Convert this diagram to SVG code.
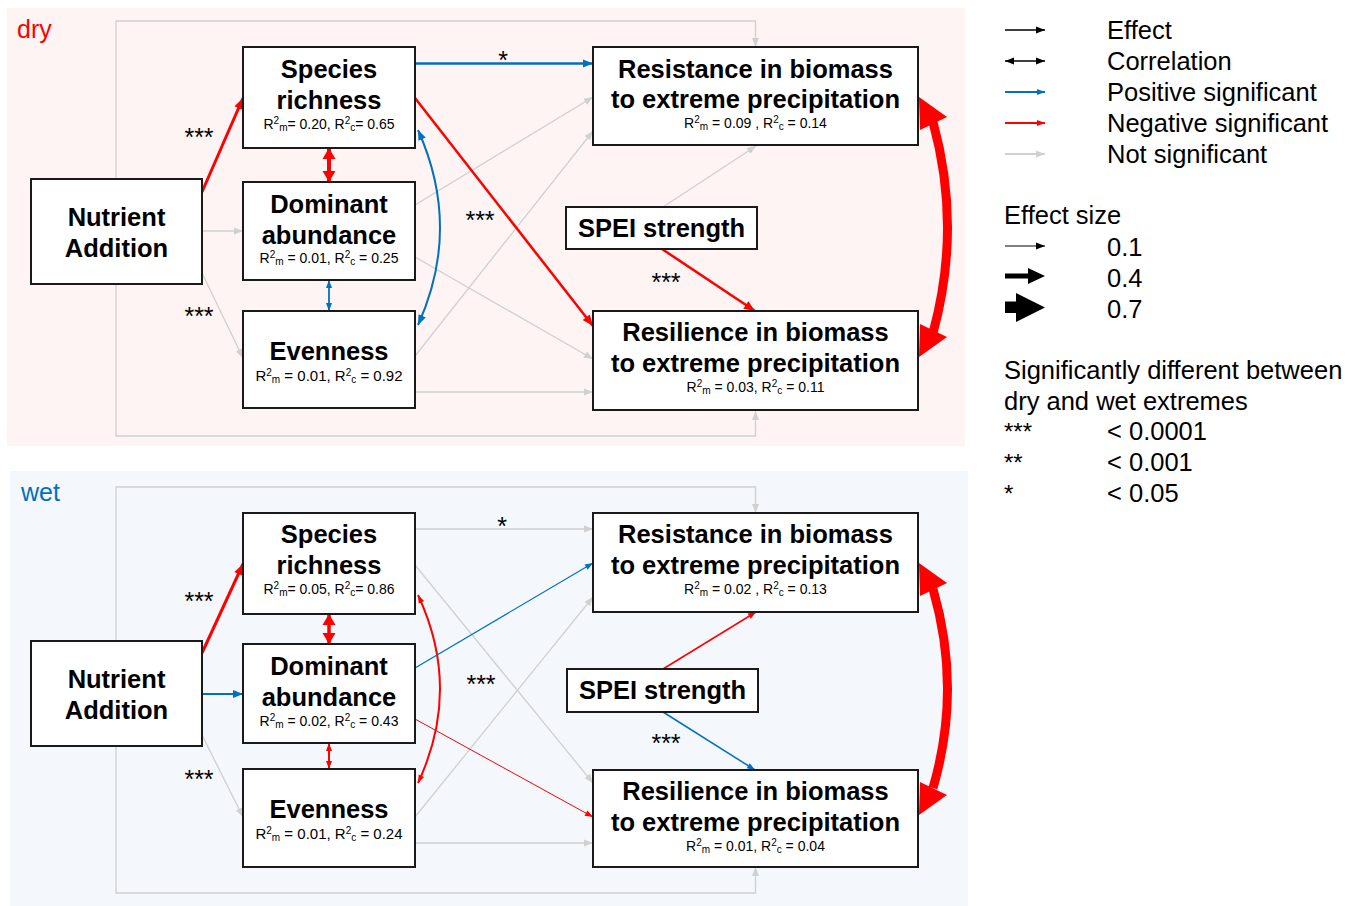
<svg xmlns="http://www.w3.org/2000/svg" width="1348" height="906" viewBox="0 0 1348 906">
<style>
text{font-family:"Liberation Sans",Arial,sans-serif;fill:#000}
.t{font-size:25.5px;font-weight:bold;text-anchor:middle}
.r{font-size:14px;text-anchor:middle}
.s{font-size:10px}
.st{font-size:25px;text-anchor:middle}
.lg{font-size:25.5px}
.box{fill:#fff;stroke:#1a1a1a;stroke-width:2}
.g{fill:none;stroke:#d0d0d0;stroke-width:1.3}
.b{fill:none;stroke:#0070c0}
.rd{fill:none;stroke:#ff0000}
</style>
<defs>
<marker id="ag" markerUnits="userSpaceOnUse" markerWidth="10" markerHeight="8" refX="9" refY="3.5" orient="auto-start-reverse" overflow="visible"><path d="M0,0 L9,3.5 L0,7z" fill="#d0d0d0"/></marker>
<marker id="ab1" markerUnits="userSpaceOnUse" markerWidth="9" markerHeight="7" refX="8" refY="3" orient="auto-start-reverse" overflow="visible"><path d="M0,0 L8,3 L0,6z" fill="#0070c0"/></marker>
<marker id="ab2" markerUnits="userSpaceOnUse" markerWidth="11" markerHeight="9" refX="10" refY="4" orient="auto-start-reverse" overflow="visible"><path d="M0,0 L10,4 L0,8z" fill="#0070c0"/></marker>
<marker id="ar1" markerUnits="userSpaceOnUse" markerWidth="9" markerHeight="7" refX="8" refY="3" orient="auto-start-reverse" overflow="visible"><path d="M0,0 L8,3 L0,6z" fill="#ff0000"/></marker>
<marker id="ar2" markerUnits="userSpaceOnUse" markerWidth="12" markerHeight="10" refX="11" refY="4.5" orient="auto-start-reverse" overflow="visible"><path d="M0,0 L11,4.5 L0,9z" fill="#ff0000"/></marker>
<marker id="ar3" markerUnits="userSpaceOnUse" markerWidth="12" markerHeight="14" refX="11" refY="6.5" orient="auto-start-reverse" overflow="visible"><path d="M0,0 L11,6.5 L0,13z" fill="#ff0000"/></marker>
<marker id="ak" markerUnits="userSpaceOnUse" markerWidth="10" markerHeight="8" refX="9" refY="3.5" orient="auto-start-reverse" overflow="visible"><path d="M0,0 L9,3.5 L0,7z" fill="#000"/></marker>
<marker id="akg" markerUnits="userSpaceOnUse" markerWidth="10" markerHeight="8" refX="9" refY="3.5" orient="auto-start-reverse" overflow="visible"><path d="M0,0 L9,3.5 L0,7z" fill="#d0d0d0"/></marker>
</defs>

<rect x="7" y="8" width="958" height="438" fill="#fef4f4"/>
<rect x="10" y="471" width="958" height="435" fill="#f4f7fc"/>
<text x="17" y="38" style="font-size:25px;fill:#ff0000">dry</text>
<text x="21" y="501" style="font-size:25px;fill:#0070c0">wet</text>

<g id="connectors">
<!-- dry -->
<path class="g" d="M116,179 V21 H755.5 V47" marker-end="url(#ag)"/>
<path class="g" d="M116,284 V436 H755.5 V411" marker-end="url(#ag)"/>
<path class="g" d="M202,231 H243" marker-end="url(#ag)"/>
<path class="g" d="M202,273 L243,358" marker-end="url(#ag)"/>
<path class="g" d="M415,205 L593,97" marker-end="url(#ag)"/>
<path class="g" d="M415,257 L593,359" marker-end="url(#ag)"/>
<path class="g" d="M415,356 L593,131" marker-end="url(#ag)"/>
<path class="g" d="M415,392 H593" marker-end="url(#ag)"/>
<path class="g" d="M663,207 L756,146" marker-end="url(#ag)"/>
<path class="rd" stroke-width="3" d="M202,192 L243,98" marker-end="url(#ar2)"/>
<path class="rd" stroke-width="4" d="M329,148 V182" marker-start="url(#ar3)" marker-end="url(#ar3)"/>
<path class="b" stroke-width="1.8" d="M329,280 V311" marker-start="url(#ab1)" marker-end="url(#ab1)"/>
<path class="b" stroke-width="2" d="M418,130 Q462,228 418,325" marker-start="url(#ab2)" marker-end="url(#ab2)"/>
<path class="b" stroke-width="2.5" d="M415,63.5 H593" marker-end="url(#ab2)"/>
<path class="rd" stroke-width="2.5" d="M415,98 L593,326" marker-end="url(#ar2)"/>
<path class="rd" stroke-width="2.5" d="M662,249 L755,311" marker-end="url(#ar2)"/>
<path class="rd" stroke-width="9" d="M933,122 Q962,227 933,333"/>
<polygon points="919,97 947,117 920,130" fill="#ff0000"/>
<polygon points="919,357 947,337 920,324" fill="#ff0000"/>
<!-- wet -->
<path class="g" d="M116,641 V487 H755.5 V513" marker-end="url(#ag)"/>
<path class="g" d="M116,746 V893 H755.5 V867" marker-end="url(#ag)"/>
<path class="g" d="M202,735 L243,817" marker-end="url(#ag)"/>
<path class="g" d="M415,529 H593" marker-end="url(#ag)"/>
<path class="g" d="M415,565 L593,783" marker-end="url(#ag)"/>
<path class="g" d="M415,817 L593,597" marker-end="url(#ag)"/>
<path class="g" d="M415,843 H593" marker-end="url(#ag)"/>
<path class="b" stroke-width="2" d="M202,694 H243" marker-end="url(#ab2)"/>
<path class="rd" stroke-width="3" d="M202,653 L243,564" marker-end="url(#ar2)"/>
<path class="rd" stroke-width="3.5" d="M329,614 V644" marker-start="url(#ar3)" marker-end="url(#ar3)"/>
<path class="rd" stroke-width="2" d="M329,743 V769" marker-start="url(#ar1)" marker-end="url(#ar1)"/>
<path class="rd" stroke-width="2" d="M418,595 Q462,689 418,783" marker-start="url(#ar1)" marker-end="url(#ar1)"/>
<path class="b" stroke-width="1.2" d="M415,668 L593,563" marker-end="url(#ab1)"/>
<path class="rd" stroke-width="1" d="M415,719 L593,817" marker-end="url(#ar1)"/>
<path class="rd" stroke-width="1.5" d="M663,669 L756,612" marker-end="url(#ar1)"/>
<path class="b" stroke-width="1.5" d="M663,712 L755,770" marker-end="url(#ab1)"/>
<path class="rd" stroke-width="9" d="M933,589 Q962,689 933,788"/>
<polygon points="919,563 947,583 920,596" fill="#ff0000"/>
<polygon points="919,815 947,795 920,782" fill="#ff0000"/>
<!-- significance labels -->
<text class="st" x="199" y="146">***</text>
<text class="st" x="199" y="325">***</text>
<text class="st" x="480" y="229">***</text>
<text class="st" x="666" y="291">***</text>
<text class="st" x="503" y="69">*</text>
<text class="st" x="199" y="610">***</text>
<text class="st" x="199" y="788">***</text>
<text class="st" x="481" y="693">***</text>
<text class="st" x="666" y="752">***</text>
<text class="st" x="502" y="535">*</text>
</g>

<!-- dry nodes -->
<g id="dry-nutrient">
<rect class="box" x="31" y="179" width="171" height="105"/>
<text class="t" x="116.5" y="226">Nutrient</text>
<text class="t" x="116.5" y="257">Addition</text>
</g>
<g id="dry-species">
<rect class="box" x="243" y="47" width="172" height="101"/>
<text class="t" x="329" y="78">Species</text>
<text class="t" x="329" y="109">richness</text>
<text class="r" x="329" y="129">R<tspan class="s" dy="-5">2</tspan><tspan class="s" dy="7">m</tspan><tspan dy="-2">= 0.20, R</tspan><tspan class="s" dy="-5">2</tspan><tspan class="s" dy="7">c</tspan><tspan dy="-2">= 0.65</tspan></text>
</g>
<g id="dry-dominant">
<rect class="box" x="243" y="182" width="172" height="98"/>
<text class="t" x="329" y="213">Dominant</text>
<text class="t" x="329" y="244">abundance</text>
<text class="r" x="329" y="263">R<tspan class="s" dy="-5">2</tspan><tspan class="s" dy="7">m</tspan><tspan dy="-2"> = 0.01, R</tspan><tspan class="s" dy="-5">2</tspan><tspan class="s" dy="7">c</tspan><tspan dy="-2"> = 0.25</tspan></text>
</g>
<g id="dry-evenness">
<rect class="box" x="243" y="311" width="172" height="97"/>
<text class="t" x="329" y="360">Evenness</text>
<text class="r" x="329" y="381" style="font-size:15px">R<tspan class="s" dy="-5">2</tspan><tspan class="s" dy="7">m</tspan><tspan dy="-2"> = 0.01, R</tspan><tspan class="s" dy="-5">2</tspan><tspan class="s" dy="7">c</tspan><tspan dy="-2"> = 0.92</tspan></text>
</g>
<g id="dry-resistance">
<rect class="box" x="593" y="47" width="325" height="98"/>
<text class="t" x="755.5" y="78">Resistance in biomass</text>
<text class="t" x="755.5" y="108">to extreme precipitation</text>
<text class="r" x="755.5" y="128">R<tspan class="s" dy="-5">2</tspan><tspan class="s" dy="7">m</tspan><tspan dy="-2"> = 0.09 , R</tspan><tspan class="s" dy="-5">2</tspan><tspan class="s" dy="7">c</tspan><tspan dy="-2"> = 0.14</tspan></text>
</g>
<g id="dry-resilience">
<rect class="box" x="593" y="311" width="325" height="99"/>
<text class="t" x="755.5" y="341">Resilience in biomass</text>
<text class="t" x="755.5" y="372">to extreme precipitation</text>
<text class="r" x="755.5" y="392">R<tspan class="s" dy="-5">2</tspan><tspan class="s" dy="7">m</tspan><tspan dy="-2"> = 0.03, R</tspan><tspan class="s" dy="-5">2</tspan><tspan class="s" dy="7">c</tspan><tspan dy="-2"> = 0.11</tspan></text>
</g>
<g id="dry-spei">
<rect class="box" x="566" y="207" width="191" height="42"/>
<text class="t" x="661.5" y="237">SPEI strength</text>
</g>

<!-- wet nodes -->
<g id="wet-nutrient">
<rect class="box" x="31" y="641" width="171" height="105"/>
<text class="t" x="116.5" y="688">Nutrient</text>
<text class="t" x="116.5" y="719">Addition</text>
</g>
<g id="wet-species">
<rect class="box" x="243" y="513" width="172" height="101"/>
<text class="t" x="329" y="543">Species</text>
<text class="t" x="329" y="574">richness</text>
<text class="r" x="329" y="594">R<tspan class="s" dy="-5">2</tspan><tspan class="s" dy="7">m</tspan><tspan dy="-2">= 0.05, R</tspan><tspan class="s" dy="-5">2</tspan><tspan class="s" dy="7">c</tspan><tspan dy="-2">= 0.86</tspan></text>
</g>
<g id="wet-dominant">
<rect class="box" x="243" y="644" width="172" height="99"/>
<text class="t" x="329" y="675">Dominant</text>
<text class="t" x="329" y="706">abundance</text>
<text class="r" x="329" y="726">R<tspan class="s" dy="-5">2</tspan><tspan class="s" dy="7">m</tspan><tspan dy="-2"> = 0.02, R</tspan><tspan class="s" dy="-5">2</tspan><tspan class="s" dy="7">c</tspan><tspan dy="-2"> = 0.43</tspan></text>
</g>
<g id="wet-evenness">
<rect class="box" x="243" y="769" width="172" height="98"/>
<text class="t" x="329" y="818">Evenness</text>
<text class="r" x="329" y="839" style="font-size:15px">R<tspan class="s" dy="-5">2</tspan><tspan class="s" dy="7">m</tspan><tspan dy="-2"> = 0.01, R</tspan><tspan class="s" dy="-5">2</tspan><tspan class="s" dy="7">c</tspan><tspan dy="-2"> = 0.24</tspan></text>
</g>
<g id="wet-resistance">
<rect class="box" x="593" y="513" width="325" height="99"/>
<text class="t" x="755.5" y="543">Resistance in biomass</text>
<text class="t" x="755.5" y="574">to extreme precipitation</text>
<text class="r" x="755.5" y="594">R<tspan class="s" dy="-5">2</tspan><tspan class="s" dy="7">m</tspan><tspan dy="-2"> = 0.02 , R</tspan><tspan class="s" dy="-5">2</tspan><tspan class="s" dy="7">c</tspan><tspan dy="-2"> = 0.13</tspan></text>
</g>
<g id="wet-resilience">
<rect class="box" x="593" y="770" width="325" height="97"/>
<text class="t" x="755.5" y="800">Resilience in biomass</text>
<text class="t" x="755.5" y="831">to extreme precipitation</text>
<text class="r" x="755.5" y="851">R<tspan class="s" dy="-5">2</tspan><tspan class="s" dy="7">m</tspan><tspan dy="-2"> = 0.01, R</tspan><tspan class="s" dy="-5">2</tspan><tspan class="s" dy="7">c</tspan><tspan dy="-2"> = 0.04</tspan></text>
</g>
<g id="wet-spei">
<rect class="box" x="567" y="669" width="191" height="43"/>
<text class="t" x="662.5" y="699">SPEI strength</text>
</g>

<!-- legend -->
<g id="legend">
<path d="M1005,30 H1045" stroke="#000" stroke-width="1.5" marker-end="url(#ak)"/>
<path d="M1005,61 H1045" stroke="#000" stroke-width="1.5" marker-start="url(#ak)" marker-end="url(#ak)"/>
<path d="M1005,92 H1045" stroke="#0070c0" stroke-width="2" marker-end="url(#ab1)"/>
<path d="M1005,123 H1045" stroke="#ff0000" stroke-width="2" marker-end="url(#ar1)"/>
<path d="M1005,154 H1045" stroke="#d0d0d0" stroke-width="2" marker-end="url(#akg)"/>
<text class="lg" x="1107" y="39">Effect</text>
<text class="lg" x="1107" y="70">Correlation</text>
<text class="lg" x="1107" y="101">Positive significant</text>
<text class="lg" x="1107" y="132">Negative significant</text>
<text class="lg" x="1107" y="163">Not significant</text>
<text class="lg" x="1004" y="224">Effect size</text>
<path d="M1005,246 H1045" stroke="#000" stroke-width="1" marker-end="url(#ak)"/>
<polygon points="1005,273.5 1028,273.5 1028,268 1045,276 1028,284 1028,278.5 1005,278.5" fill="#000"/>
<polygon points="1005,301.5 1016,301.5 1016,293 1045,307.5 1016,322 1016,313 1005,313" fill="#000"/>
<text class="lg" x="1107" y="256">0.1</text>
<text class="lg" x="1107" y="287">0.4</text>
<text class="lg" x="1107" y="318">0.7</text>
<text class="lg" x="1004" y="379">Significantly different between</text>
<text class="lg" x="1004" y="410">dry and wet extremes</text>
<text x="1004" y="440" style="font-size:24px">***</text>
<text x="1004" y="471" style="font-size:24px">**</text>
<text x="1004" y="502" style="font-size:24px">*</text>
<text class="lg" x="1107" y="440">&lt; 0.0001</text>
<text class="lg" x="1107" y="471">&lt; 0.001</text>
<text class="lg" x="1107" y="502">&lt; 0.05</text>
</g>
</svg>
